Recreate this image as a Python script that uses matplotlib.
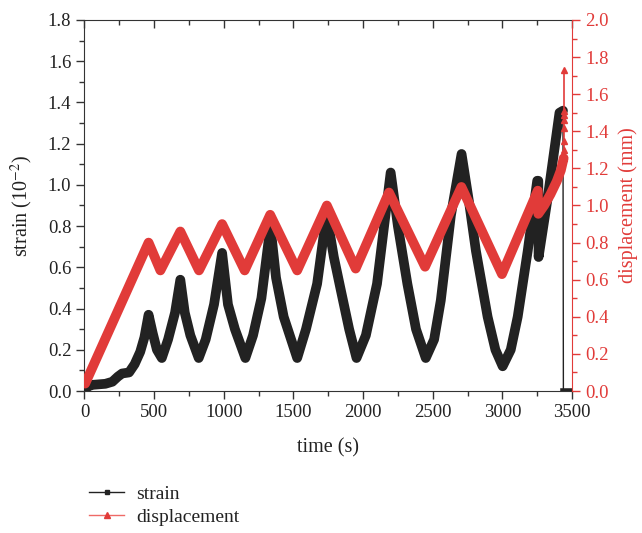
import numpy as np
import matplotlib
matplotlib.use("Agg")
import matplotlib.pyplot as plt
from matplotlib.lines import Line2D
from matplotlib.ticker import MultipleLocator

# strain record (10^-2) vs time (s)
strain_t = [0, 15, 60, 150, 200, 240, 270, 320, 360, 400, 430, 460, 490, 520, 555,
            600, 650, 688, 720, 760, 820, 870, 930, 988, 1030, 1080, 1155, 1210, 1270,
            1335, 1375, 1430, 1527, 1590, 1670, 1738, 1790, 1840, 1900, 1953, 2020,
            2100, 2198, 2250, 2318, 2380, 2450, 2510, 2558, 2630, 2707, 2760, 2810,
            2894, 2950, 3002, 3060, 3110, 3182, 3250, 3258, 3260, 3326, 3410, 3435]
strain_v = [0.0, 0.02, 0.03, 0.035, 0.045, 0.07, 0.085, 0.09, 0.13, 0.19, 0.26, 0.37,
            0.28, 0.2, 0.16, 0.25, 0.38, 0.54, 0.38, 0.27, 0.16, 0.25, 0.42, 0.67, 0.42,
            0.3, 0.16, 0.27, 0.45, 0.80, 0.55, 0.36, 0.16, 0.30, 0.52, 0.86, 0.65, 0.49,
            0.3, 0.16, 0.27, 0.52, 1.06, 0.8, 0.52, 0.3, 0.16, 0.25, 0.44, 0.85, 1.15,
            0.92, 0.68, 0.36, 0.2, 0.12, 0.2, 0.36, 0.68, 1.02, 1.02, 0.65, 0.94, 1.35,
            1.36]
# failure: strain drops to zero
strain_end_t = [3438, 3495]
strain_end_v = [0.0, 0.0]

# displacement (mm) vs time (s)
disp_t = [5, 460, 545, 688, 822, 988, 1150, 1333, 1527, 1740, 1947, 2186, 2445, 2706,
          2997, 3254, 3258, 3300, 3345, 3390, 3420, 3440]
disp_v = [0.04, 0.80, 0.65, 0.86, 0.65, 0.90, 0.65, 0.95, 0.65, 1.00, 0.66, 1.07, 0.67,
          1.10, 0.63, 1.08, 0.955, 1.00, 1.06, 1.13, 1.19, 1.255]
# last few samples before failure
disp_end_t = [3440, 3440, 3440, 3440, 3440, 3440, 3440]
disp_end_v = [1.30, 1.35, 1.42, 1.46, 1.49, 1.51, 1.73]

black = "#222222"
red = "#e13b39"

plt.rcParams["font.family"] = ["Liberation Serif", "DejaVu Serif"]
plt.rcParams["mathtext.fontset"] = "stix"

fig = plt.figure(figsize=(6.42, 5.33), dpi=100)
ax = fig.add_axes([0.1316, 0.2664, 0.7594, 0.6961])
ax2 = ax.twinx()

lw = 7
ax.plot(strain_t, strain_v, color=black, lw=lw, solid_joinstyle="round",
        solid_capstyle="round", zorder=3)
ax.plot([strain_t[-1], strain_end_t[0]], [strain_v[-1], strain_end_v[0]],
        color=black, lw=1.0, zorder=3)
ax.plot(strain_end_t, strain_end_v, color=black, lw=4, zorder=3)

ax2.plot(disp_t, disp_v, color=red, lw=lw, solid_joinstyle="round",
         solid_capstyle="round", zorder=3)
ax2.plot([disp_t[-1]] + disp_end_t, [disp_v[-1]] + disp_end_v, color=red, lw=1.2,
         marker="^", ms=5, zorder=3)

ax.set_xlim(0, 3500)
ax.set_ylim(0, 1.8)
ax2.set_ylim(0, 2.0)

ax.xaxis.set_major_locator(MultipleLocator(500))
ax.xaxis.set_minor_locator(MultipleLocator(250))
ax.yaxis.set_major_locator(MultipleLocator(0.2))
ax.yaxis.set_minor_locator(MultipleLocator(0.1))
ax2.yaxis.set_major_locator(MultipleLocator(0.2))
ax2.yaxis.set_minor_locator(MultipleLocator(0.1))
ax.yaxis.set_major_formatter(plt.FormatStrFormatter("%.1f"))
ax2.yaxis.set_major_formatter(plt.FormatStrFormatter("%.1f"))

ax.tick_params(axis="both", which="both", direction="out", colors="#333333",
               labelsize=13.5, labelcolor="#222222")
ax.tick_params(axis="x", which="both", top=True, labeltop=False)
ax.tick_params(which="major", length=6, width=1)
ax.tick_params(which="minor", length=3.5, width=1)
ax2.tick_params(axis="y", which="both", direction="out", colors=red, labelsize=13.5)
ax2.tick_params(which="major", length=6, width=1)
ax2.tick_params(which="minor", length=3.5, width=1)

# top axis ticks point down into the plot
for tick in ax.xaxis.get_major_ticks() + ax.xaxis.get_minor_ticks():
    tick.tick2line.set_marker(3)

for side in ["left", "bottom", "top"]:
    ax.spines[side].set_color("#333333")
ax2.spines["right"].set_color(red)
for s in ["left", "bottom", "top"]:
    ax2.spines[s].set_visible(False)
ax.spines["right"].set_visible(False)

ax.set_xlabel("time (s)", fontsize=14.5, color="#222222", labelpad=12)
ax.set_ylabel("strain (10$^{-2}$)", fontsize=14.5, color="#222222", labelpad=9)
ax2.set_ylabel("displacement (mm)", fontsize=14.5, color=red, labelpad=7)

handles = [
    Line2D([], [], color=black, lw=1, marker="s", ms=3.5),
    Line2D([], [], color="#ef6a66", lw=1, marker="^", ms=4.5, mfc=red, mec=red),
]
fig.legend(handles, ["strain", "displacement"], loc="upper left",
           bbox_to_anchor=(0.112, 0.123), frameon=False, fontsize=14,
           handlelength=1.8, handletextpad=0.6, labelspacing=0.3,
           labelcolor="#222222")

fig.savefig("out.png", dpi=100)
